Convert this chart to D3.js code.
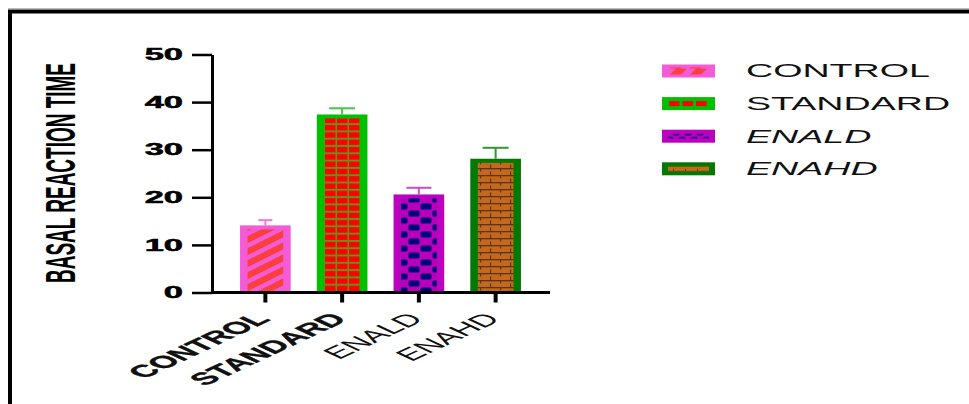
<!DOCTYPE html>
<html>
<head>
<meta charset="utf-8">
<script src="https://cdn.jsdelivr.net/npm/d3@7/dist/d3.min.js"></script>
<style>
  body { margin: 0; background: #fff; }
  svg { display: block; font-family: "Liberation Sans", Arial, sans-serif; }
</style>
</head>
<body>
<script>
// data
const categories = ["CONTROL", "STANDARD", "ENALD", "ENAHD"];
const means = [14.1, 37.4, 20.6, 28.1];
const errors = [1.1, 1.3, 1.4, 2.3];
const yTicks = [0, 10, 20, 30, 40, 50];
const legendItalic = [false, false, true, true];
const xLabelBold = [true, true, false, false];

var width = 969, height = 404;
var SX = 2.15; // the picture is stretched sideways, text too

var borderCol = ["#f45bd6", "#00c000", "#bb00c0", "#007a00"];
var errCol = ["#f27ad9", "#40c840", "#c84ccc", "#2e9a2e"];
var capW = [14, 26, 25, 26];

var svg = d3.select("body").append("svg")
    .attr("width", width)
    .attr("height", height);

var defs = svg.append("defs");

// --- patterns for the bars ---
var p0 = defs.append("pattern").attr("id", "pat0")
    .attr("patternUnits", "userSpaceOnUse").attr("width", 24).attr("height", 12);
p0.append("rect").attr("width", 24).attr("height", 12).attr("fill", "#f45bd6");
[-12, 0, 12].forEach(function (o) {
    p0.append("polygon")
        .attr("points", `0,${12 + o} 24,${0 + o} 24,${7 + o} 0,${19 + o}`)
        .attr("fill", "#fb3f3f");
});

var p1 = defs.append("pattern").attr("id", "pat1")
    .attr("patternUnits", "userSpaceOnUse").attr("width", 12).attr("height", 7.3);
p1.append("rect").attr("width", 12).attr("height", 7.3).attr("fill", "#6a9018");
p1.append("rect").attr("x", 1).attr("y", 1).attr("width", 10.5).attr("height", 5.3).attr("fill", "#ff0000");

var p2 = defs.append("pattern").attr("id", "pat2")
    .attr("patternUnits", "userSpaceOnUse").attr("width", 24).attr("height", 14);
p2.append("rect").attr("width", 24).attr("height", 14).attr("fill", "#b800bc");
p2.append("rect").attr("x", 0.5).attr("y", 0.5).attr("width", 11).attr("height", 6).attr("rx", 1.5).attr("fill", "#000078");
p2.append("rect").attr("x", 12.5).attr("y", 7.5).attr("width", 11).attr("height", 6).attr("rx", 1.5).attr("fill", "#000078");

var p3 = defs.append("pattern").attr("id", "pat3")
    .attr("patternUnits", "userSpaceOnUse").attr("width", 20).attr("height", 7);
p3.append("rect").attr("width", 20).attr("height", 7).attr("fill", "#c4681c");
p3.append("rect").attr("width", 20).attr("height", 1.3).attr("fill", "#5c3414");
p3.append("rect").attr("x", 0).attr("y", 0).attr("width", 1.2).attr("height", 3.5).attr("fill", "#5c3414");
p3.append("rect").attr("x", 10).attr("y", 3.5).attr("width", 1.2).attr("height", 3.5).attr("fill", "#5c3414");

// --- patterns for the legend swatches ---
var l0 = defs.append("pattern").attr("id", "leg0")
    .attr("patternUnits", "userSpaceOnUse").attr("width", 20).attr("height", 7).attr("x", 668).attr("y", 67.5);
l0.append("polygon").attr("points", "1,7 8,0 19,0 12,7").attr("fill", "#fb3f3f");

var l1 = defs.append("pattern").attr("id", "leg1")
    .attr("patternUnits", "userSpaceOnUse").attr("width", 13.5).attr("height", 5).attr("x", 668);
l1.append("rect").attr("x", 1).attr("width", 10.5).attr("height", 5).attr("fill", "#ff0000");

var l2 = defs.append("pattern").attr("id", "leg2")
    .attr("patternUnits", "userSpaceOnUse").attr("width", 12).attr("height", 6).attr("x", 668);
l2.append("path").attr("d", "M0,1.5 H4 L6,4.5 H10 L12,1.5")
    .attr("fill", "none").attr("stroke", "#000078").attr("stroke-width", 1.6);

var l3 = defs.append("pattern").attr("id", "leg3")
    .attr("patternUnits", "userSpaceOnUse").attr("width", 12).attr("height", 6).attr("x", 668);
l3.append("rect").attr("width", 12).attr("height", 6).attr("fill", "#c4681c");
l3.append("rect").attr("y", 2.5).attr("width", 12).attr("height", 1).attr("fill", "#5c3414");
l3.append("rect").attr("x", 5).attr("width", 1).attr("height", 2.5).attr("fill", "#5c3414");

// --- frame ---
svg.append("line").attr("x1", 8).attr("x2", width).attr("y1", 8.5).attr("y2", 8.5)
    .attr("stroke", "#bbb").attr("stroke-width", 1);
svg.append("path").attr("d", `M10,${height + 5} V11.5 H${width + 5}`)
    .attr("fill", "none").attr("stroke", "#000").attr("stroke-width", 4);

// --- scales ---
var y = d3.scaleLinear().domain([0, 50]).range([292.5, 54.5]);
var x = d3.scaleBand().domain(categories).range([227, 534])
    .paddingInner(0.34).paddingOuter(0.17);

// --- bars ---
var bars = svg.append("g").selectAll("g").data(categories).join("g");
bars.append("rect")
    .attr("x", d => x(d))
    .attr("y", (d, i) => y(means[i]))
    .attr("width", x.bandwidth())
    .attr("height", (d, i) => y(0) - y(means[i]))
    .attr("fill", (d, i) => borderCol[i]);
bars.append("rect")
    .attr("x", d => x(d) + 7.5)
    .attr("y", (d, i) => y(means[i]) + 4)
    .attr("width", x.bandwidth() - 15)
    .attr("height", (d, i) => y(0) - y(means[i]) - 4)
    .attr("fill", (d, i) => `url(#pat${i})`);

// error bars
bars.append("line")
    .attr("x1", d => x(d) + x.bandwidth() / 2)
    .attr("x2", d => x(d) + x.bandwidth() / 2)
    .attr("y1", (d, i) => y(means[i]))
    .attr("y2", (d, i) => y(means[i] + errors[i]))
    .attr("stroke", (d, i) => errCol[i]).attr("stroke-width", 2);
bars.append("line")
    .attr("x1", (d, i) => x(d) + x.bandwidth() / 2 - capW[i] / 2)
    .attr("x2", (d, i) => x(d) + x.bandwidth() / 2 + capW[i] / 2)
    .attr("y1", (d, i) => y(means[i] + errors[i]))
    .attr("y2", (d, i) => y(means[i] + errors[i]))
    .attr("stroke", (d, i) => errCol[i]).attr("stroke-width", 2);

// --- y axis ---
var yAxis = svg.append("g")
    .attr("transform", "translate(212,0)")
    .call(d3.axisLeft(y).tickValues(yTicks).tickSize(20).tickSizeOuter(0).tickFormat(""));
yAxis.select(".domain").attr("stroke-width", 3);
yAxis.selectAll(".tick line").attr("stroke-width", 2.5);

svg.append("g").selectAll("text").data(yTicks).join("text")
    .attr("transform", d => `translate(183,${y(d)}) scale(${SX},1)`)
    .attr("dy", "0.36em")
    .attr("text-anchor", "end")
    .attr("font-size", 16)
    .attr("font-weight", "bold")
    .attr("stroke", "#000").attr("stroke-width", 0.5)
    .text(d => d);

// y title
svg.append("text")
    .attr("transform", `translate(75,173) scale(${SX},1) rotate(-90)`)
    .attr("text-anchor", "middle")
    .attr("font-size", 20)
    .attr("font-weight", "bold")
    .attr("textLength", 220)
    .attr("lengthAdjust", "spacingAndGlyphs")
    .text("BASAL REACTION TIME");

// --- x axis ---
svg.append("line").attr("x1", 211).attr("x2", 550)
    .attr("y1", y(0)).attr("y2", y(0))
    .attr("stroke", "#000").attr("stroke-width", 3);
var xAxis = svg.append("g")
    .attr("transform", `translate(0,${y(0)})`)
    .call(d3.axisBottom(x).tickSize(10).tickSizeOuter(0).tickFormat(""));
xAxis.select(".domain").remove();
xAxis.selectAll(".tick line").attr("stroke-width", 4);

svg.append("g").selectAll("text").data(categories).join("text")
    .attr("transform", d => `translate(${x(d) + x.bandwidth() / 2 + 6},320) scale(${SX},1) rotate(-45)`)
    .attr("text-anchor", "end")
    .attr("font-size", 17)
    .attr("font-weight", (d, i) => xLabelBold[i] ? "bold" : "normal")
    .attr("stroke", (d, i) => xLabelBold[i] ? "#000" : "none").attr("stroke-width", 0.3)
    .attr("fill", "#111")
    .text(d => d);

// --- legend ---
var legend = svg.append("g").selectAll("g").data(categories).join("g")
    .attr("transform", (d, i) => `translate(0,${71 + i * 32.6})`);
legend.append("rect")
    .attr("x", 662).attr("y", -6.5).attr("width", 53).attr("height", 13)
    .attr("fill", (d, i) => borderCol[i]);
legend.append("rect")
    .attr("x", 668).attr("y", (d, i) => i === 0 ? -3.5 : -2.5)
    .attr("width", 41).attr("height", (d, i) => i === 0 ? 7 : 5)
    .attr("fill", (d, i) => `url(#leg${i})`);
legend.append("text")
    .attr("transform", `translate(746,0) scale(${SX},1)`)
    .attr("dy", "0.36em")
    .attr("font-size", 17.5)
    .attr("font-style", (d, i) => legendItalic[i] ? "italic" : "normal")
    .attr("fill", "#111")
    .text(d => d);
</script>
</body>
</html>
